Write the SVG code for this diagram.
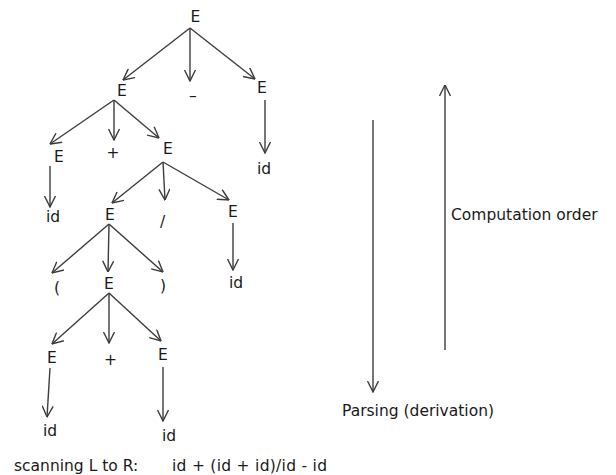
<svg xmlns="http://www.w3.org/2000/svg" width="616" height="475" viewBox="0 0 616 475">
<style>
text{font-family:"DejaVu Sans","Verdana",sans-serif;font-size:15.5px;fill:#1a1a1a}
.e{stroke:#3c3c3c;stroke-width:1.4;fill:none;marker-end:url(#a)}
</style>
<defs>
<marker id="a" markerUnits="userSpaceOnUse" viewBox="0 0 12 12" markerWidth="12" markerHeight="12" refX="11.5" refY="6" orient="auto">
<path d="M0.5,0.5 L11.5,6 L0.5,11.5" fill="none" stroke="#3c3c3c" stroke-width="1.4"/>
</marker>
</defs>
<rect width="616" height="475" fill="#fff"/>
<g id="connectors">
<line class="e" x1="190" y1="28" x2="123" y2="80"/>
<line class="e" x1="190" y1="28" x2="190" y2="81"/>
<line class="e" x1="190" y1="28" x2="255" y2="79"/>
<line class="e" x1="114" y1="100" x2="50" y2="144"/>
<line class="e" x1="114" y1="100" x2="114" y2="140"/>
<line class="e" x1="114" y1="100" x2="159" y2="138"/>
<line class="e" x1="265" y1="100" x2="265" y2="153"/>
<line class="e" x1="50" y1="166" x2="50" y2="207"/>
<line class="e" x1="163" y1="162" x2="112" y2="203"/>
<line class="e" x1="163" y1="162" x2="165" y2="200"/>
<line class="e" x1="163" y1="162" x2="229" y2="200"/>
<line class="e" x1="233" y1="223" x2="233" y2="270"/>
<line class="e" x1="109" y1="224" x2="52" y2="273"/>
<line class="e" x1="109" y1="224" x2="108" y2="272"/>
<line class="e" x1="109" y1="224" x2="163" y2="272"/>
<line class="e" x1="109" y1="293" x2="52" y2="344"/>
<line class="e" x1="109" y1="293" x2="109" y2="343"/>
<line class="e" x1="109" y1="293" x2="161" y2="341"/>
<line class="e" x1="50" y1="368" x2="47" y2="417"/>
<line class="e" x1="163" y1="367" x2="163" y2="421"/>
<line class="e" x1="373" y1="120" x2="373" y2="392"/>
<line class="e" x1="445" y1="350" x2="445" y2="85"/>
</g>
<g id="n-root"><text x="190.5" y="22">E</text></g>
<g id="n-e2l"><text x="117" y="96">E</text></g>
<g id="n-minus"><text x="189" y="101">–</text></g>
<g id="n-e2r"><text x="257" y="93">E</text></g>
<g id="n-id2r"><text x="257" y="174">id</text></g>
<g id="n-e3l"><text x="54" y="162">E</text></g>
<g id="n-plus3"><text x="106.5" y="158">+</text></g>
<g id="n-e3r"><text x="163" y="154">E</text></g>
<g id="n-id3l"><text x="46" y="222">id</text></g>
<g id="n-e4m"><text x="105" y="220">E</text></g>
<g id="n-div"><text x="160" y="227">/</text></g>
<g id="n-e4r"><text x="228" y="217">E</text></g>
<g id="n-lp"><text x="54" y="293">(</text></g>
<g id="n-e5"><text x="104" y="289">E</text></g>
<g id="n-rp"><text x="160" y="291">)</text></g>
<g id="n-id4r"><text x="229" y="288">id</text></g>
<g id="n-e6l"><text x="47" y="363">E</text></g>
<g id="n-plus6"><text x="104" y="365">+</text></g>
<g id="n-e6r"><text x="158" y="360">E</text></g>
<g id="n-id6l"><text x="43" y="436">id</text></g>
<g id="n-id6r"><text x="162" y="441">id</text></g>
<g id="labels">
<text x="451" y="220">Computation order</text>
<text x="342" y="416">Parsing (derivation)</text>
<text x="14" y="471">scanning L to R:</text>
<text x="172" y="471" textLength="155" lengthAdjust="spacing">id + (id + id)/id - id</text>
</g>
</svg>
